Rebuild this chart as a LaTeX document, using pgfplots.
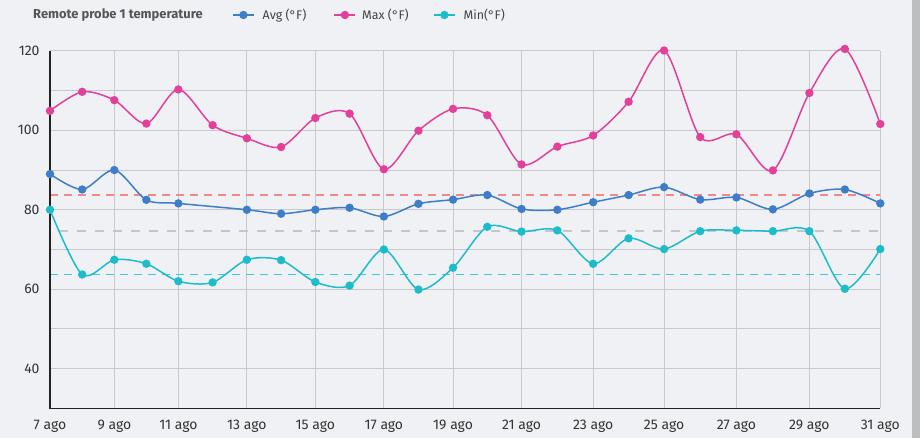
\documentclass[border=0pt]{standalone}
\usepackage{pgfplots}
\pgfplotsset{compat=1.18}
\usepackage{fontspec}
\setmainfont{Fira Sans}
\definecolor{bg}{HTML}{EFF1F4}
\definecolor{stripc}{HTML}{BDBEC0}
\definecolor{gridc}{HTML}{C8C9CC}
\definecolor{axc}{HTML}{222222}
\definecolor{tickc}{HTML}{333333}
\definecolor{titlec}{HTML}{555555}
\definecolor{legc}{HTML}{444444}
\definecolor{avgc}{HTML}{3D7DCA}
\definecolor{maxc}{HTML}{E2409B}
\definecolor{minc}{HTML}{1DBCCB}
\definecolor{redd}{HTML}{F08A8A}
\definecolor{grayd}{HTML}{C6C6C8}
\definecolor{cyand}{HTML}{3CCBDD}
\begin{document}
\begin{tikzpicture}
\fill[bg] (0,0) rectangle (920bp,438bp);
\fill[stripc] (912bp,0) rectangle (920bp,438bp);
\node[anchor=base west, inner sep=0pt, font=\fontsize{13}{15}\selectfont\bfseries, text=titlec] at (33bp,419.7bp) {Remote probe 1 temperature};
\begin{axis}[
  at={(50bp,29.7bp)}, anchor=south west, scale only axis,
  width=830.3bp, height=357.4bp,
  xmin=7, xmax=31, ymin=30, ymax=120,
  clip=false,
  axis line style={draw=none},
  xtick={7,8.86,10.71,12.69,14.67,16.65,18.65,20.63,22.70,24.75,26.84,28.95,31},
  xticklabels={7 ago,9 ago,11 ago,13 ago,15 ago,17 ago,19 ago,21 ago,23 ago,25 ago,27 ago,29 ago,31 ago},
  ytick={40,60,80,100,120}, minor ytick={50,70,90,110},
  xmajorgrids, ymajorgrids, yminorgrids,
  major grid style={gridc, line width=1bp},
  minor grid style={gridc, line width=1bp},
  major tick length=0pt, minor tick length=0pt,
  tick label style={font=\fontsize{14}{16}\selectfont, text=tickc},
  /pgf/number format/assume math mode=true,
  yticklabel style={xshift=-7bp},
  xticklabel style={yshift=-8.5bp},
  legend columns=3,
  legend style={at={(0.2192,1.1005)}, anchor=west, draw=none, fill=none, inner sep=0pt,
    font=\fontsize{12.5}{15}\selectfont, text=legc},
  legend image code/.code={\draw[mark repeat=2,mark phase=2] plot coordinates {(0bp,0bp) (10.5bp,0bp) (21bp,0bp)};},
  every axis plot/.append style={line width=1.5bp},
  mark size=3.4bp,
]
\addplot[forget plot, redd, line width=1.2bp, dash pattern=on 8bp off 6bp] coordinates {(7,83.7) (31,83.7)};
\addplot[forget plot, grayd, line width=1.4bp, dash pattern=on 9bp off 9bp, dash phase=9bp] coordinates {(7,74.6) (31,74.6)};
\addplot[forget plot, cyand, line width=1.2bp, dash pattern=on 8bp off 6bp] coordinates {(7,63.7) (31,63.7)};
\draw[axc, line width=1.3bp] (axis cs:7,120) -- (axis cs:7,30) -- (axis cs:31,30);
\addplot[avgc, smooth, tension=0.5, mark=*, mark options={fill=avgc, draw=avgc}] coordinates {
(7.00,89.0) (7.93,85.1) (8.86,90.0) (9.785,82.5) (10.71,81.6) (12.69,80.0) (13.68,79.0)
(14.67,80.0) (15.66,80.5) (16.65,78.3) (17.65,81.5) (18.65,82.55) (19.64,83.7) (20.63,80.2)
(21.665,80.0) (22.70,81.9) (23.725,83.7) (24.75,85.7) (25.795,82.55) (26.84,83.1) (27.895,80.1)
(28.95,84.1) (29.975,85.1) (31.00,81.6)};
\addlegendentry{\hspace*{6bp}\makebox[69bp][l]{Avg (°F)}}
\addplot[maxc, smooth, tension=0.5, mark=*, mark options={fill=maxc, draw=maxc}] coordinates {
(7.00,104.9) (7.93,109.7) (8.86,107.6) (9.785,101.7) (10.71,110.3) (11.70,101.3) (12.69,98.0)
(13.68,95.8) (14.67,103.1) (15.66,104.2) (16.65,90.2) (17.65,99.9) (18.65,105.4) (19.64,103.8)
(20.63,91.4) (21.665,95.9) (22.70,98.7) (23.725,107.2) (24.75,120.1) (25.795,98.3) (26.84,99.0)
(27.895,89.9) (28.95,109.4) (29.975,120.5) (31.00,101.6)};
\addlegendentry{\hspace*{4bp}\makebox[69bp][l]{Max (°F)}}
\addplot[minc, smooth, tension=0.5, mark=*, mark options={fill=minc, draw=minc}] coordinates {
(7.00,80.0) (7.93,63.7) (8.86,67.4) (9.785,66.4) (10.71,62.0) (11.70,61.7) (12.69,67.4)
(13.68,67.3) (14.67,61.8) (15.66,60.9) (16.65,70.0) (17.65,59.9) (18.65,65.4) (19.64,75.7)
(20.63,74.5) (21.665,74.8) (22.70,66.4) (23.725,72.8) (24.75,70.1) (25.795,74.6) (26.84,74.8)
(27.895,74.6) (28.95,74.6) (29.975,60.1) (31.00,70.1)};
\addlegendentry{\hspace*{6bp}Min(°F)}
\end{axis}
\pgfresetboundingbox
\useasboundingbox (0,0) rectangle (920bp,438bp);
\end{tikzpicture}
\end{document}
